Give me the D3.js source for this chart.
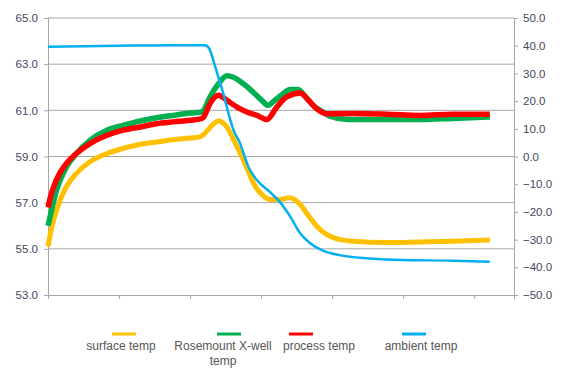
<!DOCTYPE html>
<html>
<head>
<meta charset="utf-8">
<script src="https://cdn.jsdelivr.net/npm/d3@7"></script>
<style>
  body { margin: 0; background: #fff; }
  text { font-family: "Liberation Sans", Arial, sans-serif; }
  .TickLabel { font-size: 11.5px; fill: #44475e; }
  .Legend { font-size: 12px; fill: #555; }
</style>
</head>
<body>
<div id="viz"></div>
<script>
// time axis (no labels in original), ticks every 100 units
const xTicks = [0, 100, 200, 300, 400, 500, 600]
const leftTicks = [53, 55, 57, 59, 61, 63, 65]
const rightTicks = [-50, -40, -30, -20, -10, 0, 10, 20, 30, 40, 50]

// series: [time, value]
const surfaceTemp = [
  [0, 55.1], [3, 55.6], [8, 56.25], [17, 57.1], [26, 57.7], [40, 58.27], [59, 58.77],
  [83, 59.13], [106, 59.35], [130, 59.53], [153, 59.63], [176, 59.73], [200, 59.8],
  [214, 59.85], [219, 59.95], [231, 60.35], [240, 60.54], [250, 60.35], [266, 59.43],
  [277, 58.72], [289, 57.86], [301, 57.35], [312, 57.14], [326, 57.14], [340, 57.21],
  [355, 56.92], [367, 56.42], [378, 55.99], [392, 55.63], [406, 55.44], [429, 55.33],
  [477, 55.27], [524, 55.3], [570, 55.33], [622, 55.38]
]
const rosemountTemp = [
  [0, 56.0], [3, 56.4], [12, 57.54], [26, 58.55], [40, 59.13], [59, 59.7], [83, 60.14],
  [106, 60.35], [130, 60.54], [153, 60.68], [176, 60.78], [200, 60.88], [216, 60.93],
  [219, 61.0], [228, 61.58], [240, 62.15], [252, 62.5], [261, 62.43], [275, 62.15],
  [289, 61.78], [301, 61.43], [310, 61.22], [319, 61.43], [331, 61.72], [341, 61.9],
  [352, 61.9], [361, 61.65], [373, 61.22], [387, 60.93], [397, 60.75], [422, 60.6],
  [477, 60.6], [524, 60.6], [570, 60.65], [622, 60.71]
]
const processTemp = [
  [0, 56.8], [3, 57.2], [12, 58.0], [26, 58.7], [40, 59.13], [59, 59.56], [83, 59.92],
  [106, 60.14], [130, 60.28], [153, 60.42], [176, 60.5], [200, 60.57], [216, 60.64],
  [219, 60.71], [228, 61.29], [240, 61.65], [252, 61.43], [266, 61.14], [280, 60.93],
  [294, 60.78], [308, 60.6], [322, 61.14], [336, 61.58], [355, 61.75], [367, 61.43],
  [378, 61.07], [392, 60.85], [429, 60.86], [477, 60.83], [524, 60.78], [570, 60.83],
  [622, 60.83]
]
const ambientTemp = [
  [0, 39.6], [50, 39.8], [100, 40.0], [150, 40.1], [200, 40.2], [221, 40.2], [227, 39.0],
  [234, 33.6], [241, 27.6], [248, 21.6], [254, 15.6], [261, 9.6], [270, 5.0], [282, -3.7],
  [294, -8.5], [312, -12.7], [326, -16.3], [341, -21.7], [355, -27.7], [369, -31.3],
  [387, -34.0], [410, -35.6], [452, -36.8], [498, -37.4], [570, -37.6], [622, -38.0]
]

const seriesNames = ["surface temp", "Rosemount X-well temp", "process temp", "ambient temp"]
const seriesColors = ["#ffc000", "#00b050", "#ff0000", "#00b0f0"]

const WIDTH = 563, HEIGHT = 376
const M = { top: 18, right: 49, bottom: 81, left: 48 }

const svg = d3.select("#viz").append("svg")
    .attr("width", WIDTH)
    .attr("height", HEIGHT)

const x = d3.scaleLinear().domain([0, 656]).range([M.left, WIDTH - M.right])
const yL = d3.scaleLinear().domain([53, 65]).range([HEIGHT - M.bottom, M.top])
const yR = d3.scaleLinear().domain([-50, 50]).range([HEIGHT - M.bottom, M.top])

// gridlines
svg.append("g")
    .selectAll("line")
    .data(leftTicks.slice(1))
    .join("line")
    .attr("x1", M.left).attr("x2", WIDTH - M.right)
    .attr("y1", d => yL(d)).attr("y2", d => yL(d))
    .attr("stroke", "#a6a6a6").attr("stroke-width", 1)

function styleAxis(g) {
    g.select(".domain").attr("stroke", "#a6a6a6")
    g.selectAll(".tick line").attr("stroke", "#a6a6a6")
    g.selectAll(".tick text").attr("class", "TickLabel").attr("fill", null)
}

svg.append("g")
    .attr("transform", `translate(${M.left},0)`)
    .call(d3.axisLeft(yL).tickValues(leftTicks).tickFormat(d3.format(".1f")).tickSizeOuter(0).tickSize(4).tickPadding(6))
    .call(styleAxis)
    .call(g => g.attr("font-size", null).attr("font-family", null))

svg.append("g")
    .attr("transform", `translate(${WIDTH - M.right},0)`)
    .call(d3.axisRight(yR).tickValues(rightTicks).tickFormat(d3.format(".1f")).tickSizeOuter(0).tickSize(4).tickPadding(5))
    .call(styleAxis)
    .call(g => g.attr("font-size", null).attr("font-family", null))

svg.append("g")
    .attr("transform", `translate(0,${HEIGHT - M.bottom})`)
    .call(d3.axisBottom(x).tickValues(xTicks).tickFormat("").tickSizeOuter(0).tickSize(4))
    .call(styleAxis)

// lines
const line = (ys) => d3.line().x(d => x(d[0])).y(d => ys(d[1])).curve(d3.curveMonotoneX)
const series = [
    { data: surfaceTemp, scale: yL, width: 5 },
    { data: rosemountTemp, scale: yL, width: 5.5 },
    { data: processTemp, scale: yL, width: 5.5 },
    { data: ambientTemp, scale: yR, width: 2.5 }
]
series.forEach((s, i) => {
    svg.append("path")
        .attr("d", line(s.scale)(s.data))
        .attr("fill", "none")
        .attr("stroke", seriesColors[i])
        .attr("stroke-width", s.width)
        .attr("stroke-linejoin", "round")
})

// legend
const legendLine = [[112, 136], [217, 241], [289, 313], [402, 426]]
const legendText = [[121, ["surface temp"]], [223, ["Rosemount X-well", "temp"]], [319, ["process temp"]], [421, ["ambient temp"]]]
const legend = svg.append("g").attr("id", "Legend")
seriesNames.forEach((n, i) => {
    legend.append("line")
        .attr("x1", legendLine[i][0]).attr("x2", legendLine[i][1])
        .attr("y1", 334).attr("y2", 334)
        .attr("stroke", seriesColors[i]).attr("stroke-width", 3)
    const t = legend.append("text")
        .attr("class", "Legend")
        .attr("text-anchor", "middle")
        .attr("x", legendText[i][0]).attr("y", 350)
    legendText[i][1].forEach((l, j) => {
        t.append("tspan").attr("x", legendText[i][0]).attr("dy", j ? 15 : 0).text(l)
    })
})
</script>
</body>
</html>
